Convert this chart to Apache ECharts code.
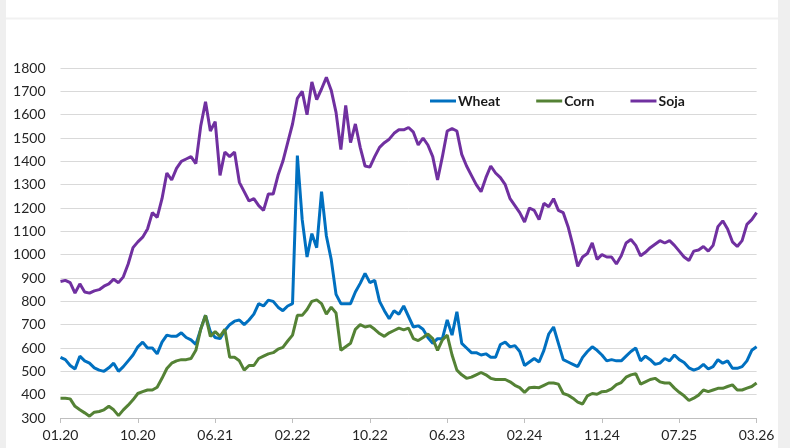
<!DOCTYPE html>
<html>
<head>
<meta charset="utf-8">
<script src="https://cdn.jsdelivr.net/npm/echarts@6/dist/echarts.min.js"></script>
<style>
  html, body { margin: 0; padding: 0; background: #efefef; }
  #chart { width: 790px; height: 448px; }
</style>
</head>
<body>
<div id="chart"></div>
<script>
// tick labels, one every 16 points
const tickLabels = ["01.20", "10.20", "06.21", "02.22", "10.22", "06.23", "02.24", "11.24", "07.25", "03.26"];
const pointsPerTick = 16;

const wheat = [
  560, 550, 525, 510, 565, 545, 535, 515, 505, 500, 515, 535, 500, 520, 545, 570, 605,
  625, 600, 600, 575, 625, 655, 650, 650, 665, 645, 635, 615, 680, 740, 670, 645,
  640, 675, 700, 715, 720, 700, 720, 745, 790, 780, 805, 800, 775, 760, 780, 790,
  1425, 1150, 990, 1090, 1030, 1270, 1080, 980, 830, 790, 790, 790, 840, 877, 920, 880,
  890, 800, 760, 725, 760, 745, 780, 735, 690, 695, 680, 645, 620, 640, 640, 720,
  655, 755, 620, 600, 580, 580, 570, 575, 560, 560, 615, 625, 605, 610, 585, 525,
  540, 555, 540, 590, 660, 690, 620, 550, 540, 530, 520, 560, 585, 605, 590, 570,
  545, 550, 545, 545, 565, 585, 600, 545, 565, 550, 530, 535, 555, 545, 570, 550,
  538, 515, 505, 513, 530, 510, 520, 550, 535, 545, 513, 513, 520, 545, 590, 605
];

const corn = [
  385, 385, 382, 350, 335, 322, 308, 325, 328, 335, 350, 335, 310, 335, 355, 378, 405,
  413, 420, 420, 432, 470, 512, 535, 545, 550, 550, 555, 590, 680, 740, 650, 670,
  650, 680, 560, 560, 545, 505, 525, 525, 555, 565, 575, 580, 595, 603, 630, 655,
  740, 740, 765, 800, 806, 790, 745, 775, 750, 590, 605, 620, 680, 700, 690, 695,
  680, 662, 650, 665, 675, 685, 678, 685, 640, 632, 645, 660, 640, 590, 635, 655,
  570, 505, 485, 470, 475, 485, 495, 485, 470, 465, 465, 465, 455, 440, 430, 410,
  430, 432, 430, 440, 450, 450, 445, 405, 398, 385, 368, 360, 395, 405, 402, 413,
  415, 425, 443, 452, 475, 485, 490, 445, 455, 465, 470, 455, 450, 450, 428, 410,
  395, 375, 385, 398, 420, 413, 420, 427, 427, 435, 442, 420, 420, 428, 435, 450
];

const soja = [
  885, 890, 880, 835, 875, 840, 835, 845, 850, 865, 875, 895, 880, 905, 960, 1030, 1055,
  1075, 1110, 1180, 1160, 1240, 1350, 1320, 1370, 1400, 1410, 1420, 1390, 1550, 1655, 1530, 1570,
  1340, 1440, 1420, 1440, 1310, 1270, 1230, 1240, 1210, 1190, 1260, 1260, 1340, 1400, 1480, 1560,
  1670, 1700, 1600, 1740, 1665, 1710, 1760, 1705, 1610, 1450, 1640, 1480, 1560, 1460, 1380, 1375,
  1420, 1460, 1480, 1495, 1520, 1535, 1535, 1545, 1525, 1470, 1500, 1470, 1420, 1320, 1420, 1530,
  1540, 1530, 1430, 1380, 1340, 1300, 1270, 1330, 1380, 1350, 1330, 1300, 1240, 1210, 1180, 1140,
  1200, 1190, 1150, 1220, 1205, 1240, 1190, 1180, 1120, 1040, 950, 990, 1005, 1050, 980, 1000,
  990, 990, 960, 995, 1050, 1065, 1040, 995, 1010, 1030, 1045, 1060, 1050, 1060, 1040, 1015,
  990, 975, 1015, 1020, 1035, 1015, 1040, 1120, 1145, 1110, 1055, 1035, 1060, 1130, 1150, 1180
];

const categories = wheat.map((_, i) => String(i));

const chart = echarts.init(document.getElementById("chart"));
const font = "Lato, 'Noto Sans', sans-serif";

chart.setOption({
  animation: false,
  backgroundColor: "#efefef",
  graphic: [
    { type: "rect", shape: { x: 6, y: 0, width: 772, height: 448 }, style: { fill: "#ffffff" }, z: -10 },
    { type: "line", shape: { x1: 6, y1: 18.5, x2: 778, y2: 18.5 }, style: { stroke: "#f1f1f1", lineWidth: 2 }, z: -9 }
  ],
  grid: { left: 60.5, right: 33.4, top: 68, bottom: 30 },
  legend: {
    left: 425,
    top: 89,
    itemGap: 36,
    itemWidth: 26,
    itemHeight: 3,
    icon: "rect",
    textStyle: { fontFamily: font, fontWeight: "bold", fontSize: 14, color: "#1a1a1a", padding: [0, 0, 0, -3] },
    data: ["Wheat", "Corn", "Soja"]
  },
  xAxis: {
    type: "category",
    data: categories,
    boundaryGap: false,
    axisLine: { lineStyle: { color: "#bfbfbf", width: 1 } },
    axisTick: { interval: pointsPerTick - 1, length: 5, lineStyle: { color: "#bfbfbf" } },
    axisLabel: {
      interval: pointsPerTick - 1,
      margin: 10,
      fontFamily: font,
      fontSize: 14,
      color: "#262626",
      formatter: (v, idx) => (idx % pointsPerTick === 0 ? tickLabels[idx / pointsPerTick] : "")
    },
    splitLine: { show: false }
  },
  yAxis: {
    type: "value",
    min: 300,
    max: 1800,
    interval: 100,
    axisLine: { show: false },
    axisTick: { show: false },
    axisLabel: { margin: 15, fontFamily: font, fontSize: 14, color: "#262626", formatter: v => String(v) },
    splitLine: { lineStyle: { color: "#d9d9d9", width: 1 } }
  },
  series: [
    { name: "Wheat", type: "line", data: wheat, showSymbol: false, symbol: "none",
      itemStyle: { color: "#0070c0" }, lineStyle: { width: 3, color: "#0070c0" } },
    { name: "Corn", type: "line", data: corn, showSymbol: false, symbol: "none",
      itemStyle: { color: "#548235" }, lineStyle: { width: 3, color: "#548235" } },
    { name: "Soja", type: "line", data: soja, showSymbol: false, symbol: "none",
      itemStyle: { color: "#7030a0" }, lineStyle: { width: 3, color: "#7030a0" } }
  ]
});
</script>
</body>
</html>
